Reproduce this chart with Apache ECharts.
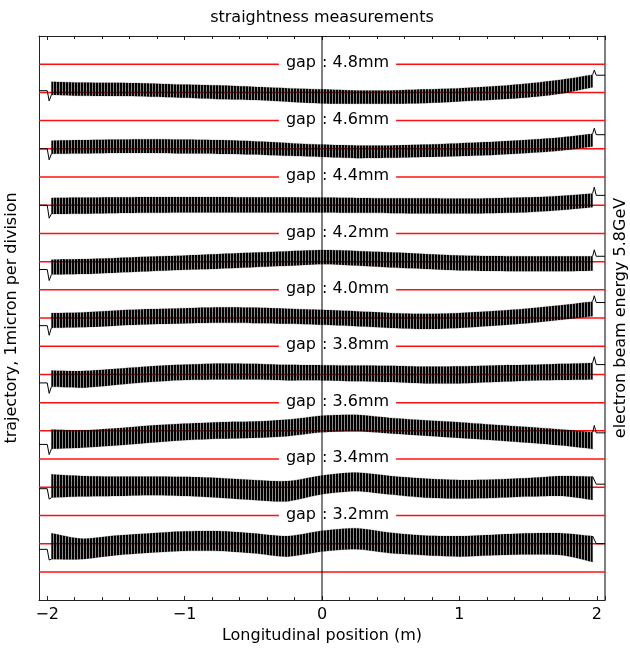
<!DOCTYPE html>
<html><head><meta charset="utf-8">
<script src="https://cdn.jsdelivr.net/npm/echarts@6/dist/echarts.min.js"></script>
<style>html,body{margin:0;padding:0;background:#fff}#c{width:630px;height:649px}</style>
</head><body><div id="c"></div>
<script>
// ---------------- data ----------------
const gapLabels   = ['4.8', '4.6', '4.4', '4.2', '4.0', '3.8', '3.6', '3.4', '3.2'];
const baselines   = [18, 16, 14, 12, 10, 8, 6, 4, 2];
const labelLevels = [19, 17, 15, 13, 11, 9, 7, 5, 3];
const redLevels   = [1, 2, 3, 4, 5, 6, 7, 8, 9, 10, 11, 12, 13, 14, 15, 16, 17, 18, 19];

// envelope sample positions (m)
const envX = [-1.97, -1.75, -1.5, -1.25, -1.0, -0.75, -0.5, -0.25, 0, 0.25, 0.5, 0.75, 1.0, 1.25, 1.5, 1.75, 1.97];

// upper / lower envelope of the oscillating trajectory, relative to its baseline (micron)
const upper48 = [0.38, 0.35, 0.34, 0.32, 0.28, 0.25, 0.20, 0.15, 0.11, 0.07, 0.07, 0.11, 0.15, 0.22, 0.32, 0.46, 0.63];
const lower48 = [-0.09, -0.12, -0.13, -0.15, -0.19, -0.24, -0.27, -0.33, -0.39, -0.40, -0.40, -0.38, -0.32, -0.26, -0.18, -0.04, 0.18];
const upper46 = [0.29, 0.31, 0.33, 0.34, 0.33, 0.31, 0.27, 0.21, 0.15, 0.12, 0.12, 0.15, 0.20, 0.25, 0.32, 0.41, 0.53];
const lower46 = [-0.18, -0.17, -0.15, -0.15, -0.17, -0.18, -0.20, -0.25, -0.29, -0.33, -0.32, -0.29, -0.26, -0.22, -0.15, -0.06, 0.08];
const upper44 = [0.26, 0.27, 0.28, 0.29, 0.29, 0.29, 0.28, 0.28, 0.27, 0.26, 0.25, 0.25, 0.24, 0.25, 0.28, 0.34, 0.42];
const lower44 = [-0.31, -0.30, -0.28, -0.27, -0.26, -0.26, -0.26, -0.26, -0.26, -0.27, -0.28, -0.29, -0.29, -0.28, -0.25, -0.17, -0.07];
const upper42 = [0.07, 0.09, 0.13, 0.18, 0.22, 0.27, 0.32, 0.37, 0.41, 0.38, 0.33, 0.27, 0.22, 0.20, 0.19, 0.19, 0.19];
const lower42 = [-0.46, -0.44, -0.39, -0.34, -0.29, -0.25, -0.20, -0.15, -0.09, -0.14, -0.21, -0.26, -0.31, -0.33, -0.34, -0.34, -0.32];
const upper40 = [0.18, 0.20, 0.27, 0.32, 0.35, 0.38, 0.37, 0.33, 0.29, 0.24, 0.18, 0.15, 0.18, 0.25, 0.34, 0.46, 0.59];
const lower40 = [-0.35, -0.33, -0.27, -0.22, -0.19, -0.17, -0.18, -0.20, -0.24, -0.29, -0.35, -0.39, -0.35, -0.27, -0.18, -0.06, 0.06];
const upper38 = [0.14, 0.12, 0.20, 0.29, 0.35, 0.39, 0.38, 0.34, 0.33, 0.32, 0.31, 0.28, 0.29, 0.32, 0.34, 0.38, 0.41];
const lower38 = [-0.44, -0.47, -0.37, -0.27, -0.20, -0.18, -0.18, -0.21, -0.21, -0.24, -0.27, -0.32, -0.32, -0.27, -0.22, -0.20, -0.18];
const upper36 = [0.05, 0.02, 0.09, 0.19, 0.26, 0.31, 0.33, 0.40, 0.54, 0.57, 0.46, 0.38, 0.31, 0.22, 0.14, 0.05, -0.05];
const lower36 = [-0.64, -0.60, -0.52, -0.42, -0.33, -0.28, -0.25, -0.19, -0.05, -0.01, -0.09, -0.17, -0.25, -0.33, -0.42, -0.52, -0.64];
const upper34 = [0.46, 0.40, 0.38, 0.38, 0.37, 0.33, 0.26, 0.22, 0.42, 0.52, 0.40, 0.31, 0.26, 0.28, 0.33, 0.40, 0.38];
const lower34 = [-0.37, -0.33, -0.31, -0.28, -0.31, -0.37, -0.45, -0.50, -0.25, -0.14, -0.26, -0.37, -0.40, -0.38, -0.33, -0.31, -0.45];
const upper32 = [0.37, 0.18, 0.29, 0.37, 0.44, 0.45, 0.37, 0.27, 0.46, 0.55, 0.39, 0.29, 0.27, 0.32, 0.37, 0.37, 0.27];
const lower32 = [-0.55, -0.55, -0.41, -0.32, -0.26, -0.26, -0.34, -0.46, -0.28, -0.20, -0.34, -0.41, -0.46, -0.41, -0.38, -0.41, -0.65];

const uppers = [upper48, upper46, upper44, upper42, upper40, upper38, upper36, upper34, upper32];
const lowers = [lower48, lower46, lower44, lower42, lower40, lower38, lower36, lower34, lower32];

// entry hook (left end) and exit spike (right end), relative to baseline
const entryX     = [-2.06, -2.0, -1.986];
const entryLevel = [0.06, 0.00, 0.00, -0.28, -0.27, -0.30, -0.48, -0.05, -0.20];
const entryDip   = [-0.30, -0.39, -0.46, -0.67, -0.61, -0.67, -0.84, -0.42, -0.58];
const exitX      = [1.982, 1.996, 2.06];
const exitPeak   = [0.79, 0.73, 0.64, 0.42, 0.79, 0.63, 0.19, 0.42, 0.30];
const exitLevel  = [0.61, 0.50, 0.35, 0.19, 0.55, 0.35, -0.07, 0.11, 0.00];

// ---------------- chart ----------------
const FONT = 'DejaVu Sans';
const pat = document.createElement('canvas');
pat.width = 3; pat.height = 4;
const pctx = pat.getContext('2d');
pctx.fillStyle = '#000';
pctx.fillRect(0, 0, 2, 4);
pctx.fillStyle = 'rgba(0,0,0,0.45)';
pctx.fillRect(2, 0, 1, 4);

const chart = echarts.init(document.getElementById('c'), null, {renderer: 'canvas'});

const series = [];

// red reference lines
series.push({
  type: 'custom', z: 1, silent: true,
  data: redLevels.map(v => [0, v]),
  encode: {x: 0, y: 1},
  renderItem: (params, api) => {
    const cs = params.coordSys;
    const p = api.coord([0, api.value(1)]);
    return {type: 'line', shape: {x1: cs.x, y1: p[1], x2: cs.x + cs.width, y2: p[1]},
            style: {stroke: '#ff1010', lineWidth: 1.5}};
  }
});

// oscillating trajectory bands
series.push({
  type: 'custom', z: 2, silent: true,
  data: baselines.map((b, i) => [0, b, i]),
  encode: {x: 0, y: 1},
  renderItem: (params, api) => {
    const i = params.dataIndex;
    const b = baselines[i];
    const n = envX.length - 1;
    const up = [], lo = [];
    for (let k = 0; k <= n; k++) {
      up.push(api.coord([envX[k], b + uppers[i][k]]));
      lo.push(api.coord([envX[k], b + lowers[i][k]]));
    }
    // repeat the four corner points so smoothing keeps the band ends square
    const pts = [up[0]].concat(up, [up[n]], [lo[n]], lo.slice().reverse(), [lo[0]]);
    return {type: 'polygon', shape: {points: pts, smooth: 0.25},
            style: {fill: {image: pat, repeat: 'repeat'}, stroke: 'rgba(0,0,0,0.3)', lineWidth: 0.6}};
  }
});

// entry / exit thin lines
baselines.forEach((b, i) => {
  const n = envX.length - 1;
  series.push({
    type: 'line', z: 3, silent: true, symbol: 'none', animation: false,
    lineStyle: {color: '#000', width: 1},
    data: [[entryX[0], b + entryLevel[i]], [entryX[1], b + entryLevel[i]], [entryX[2], b + entryDip[i]], [envX[0], b + lowers[i][0]]]
  });
  series.push({
    type: 'line', z: 3, silent: true, symbol: 'none', animation: false,
    lineStyle: {color: '#000', width: 1},
    data: [[envX[n], b + uppers[i][n]], [exitX[0], b + exitPeak[i]], [exitX[1], b + exitLevel[i]], [exitX[2], b + exitLevel[i]]]
  });
});

// gap labels
series.push({
  type: 'custom', z: 4, silent: true,
  data: labelLevels.map((v, i) => [0, v, i]),
  encode: {x: 0, y: 1},
  renderItem: (params, api) => {
    const i = params.dataIndex;
    const p = api.coord([api.value(0), api.value(1)]);
    const common = {fill: '#000', font: '16px "' + FONT + '"', verticalAlign: 'middle', textVerticalAlign: 'middle',
                    backgroundColor: '#fff'};
    return {type: 'group', children: [
      {type: 'text', x: p[0], y: p[1] - 1,
       style: Object.assign({}, common, {text: 'gap', align: 'right', textAlign: 'right', padding: [0, 6, 0, 7]})},
      {type: 'text', x: p[0], y: p[1] - 1,
       style: Object.assign({}, common, {text: ': ' + gapLabels[i] + 'mm', align: 'left', textAlign: 'left', padding: [0, 7, 0, 0]})}
    ]};
  }
});

// vertical zero line
series.push({
  type: 'custom', z: 5, silent: true,
  data: [[0, 0]],
  encode: {x: 0, y: 1},
  renderItem: (params, api) => {
    const cs = params.coordSys;
    const p = api.coord([api.value(0), 0]);
    return {type: 'line', shape: {x1: p[0], y1: cs.y, x2: p[0], y2: cs.y + cs.height},
            style: {stroke: '#000', lineWidth: 1}};
  }
});

const fmt = v => {
  if (Math.abs(v - Math.round(v)) > 1e-6) return '';
  return v < 0 ? '\u2212' + Math.abs(v) : String(v);
};

const axisCol = '#222';
const option = {
  animation: false,
  backgroundColor: '#fff',
  grid: {left: 39, right: 25, top: 36, bottom: 48, containLabel: false},
  xAxis: [
    {type: 'value', position: 'bottom', min: -2.06, max: 2.06, splitNumber: 4,
     axisLine: {show: true, onZero: false, lineStyle: {color: axisCol, width: 1}},
     axisTick: {show: true, inside: true, length: 4, lineStyle: {color: axisCol}},
     minorTick: {show: true, splitNumber: 5, length: 3, lineStyle: {color: axisCol}},
     splitLine: {show: false},
     axisLabel: {formatter: fmt, color: '#000', fontSize: 16, fontFamily: FONT, margin: 7},
     name: 'Longitudinal position (m)', nameLocation: 'middle', nameGap: 27,
     nameTextStyle: {color: '#000', fontSize: 16, fontFamily: FONT}},
    {type: 'value', position: 'top', min: -2.06, max: 2.06, splitNumber: 4,
     axisLine: {show: true, onZero: false, lineStyle: {color: axisCol, width: 1}},
     axisTick: {show: true, inside: true, length: 4, lineStyle: {color: axisCol}},
     minorTick: {show: true, splitNumber: 5, length: 3, lineStyle: {color: axisCol}},
     splitLine: {show: false},
     axisLabel: {show: false}}
  ],
  yAxis: [
    {type: 'value', position: 'left', min: 0, max: 20,
     axisLine: {show: true, onZero: false, lineStyle: {color: axisCol, width: 1}},
     axisTick: {show: false}, axisLabel: {show: false}, splitLine: {show: false}},
    {type: 'value', position: 'right', min: 0, max: 20,
     axisLine: {show: true, onZero: false, lineStyle: {color: '#555', width: 1.5}},
     axisTick: {show: false}, axisLabel: {show: false}, splitLine: {show: false}}
  ],
  graphic: [
    {type: 'text', x: 322, y: 18, silent: true,
     style: {text: 'straightness measurements', fill: '#000', font: '16px "' + FONT + '"',
             align: 'center', verticalAlign: 'middle', textAlign: 'center', textVerticalAlign: 'middle'}},
    {type: 'text', x: 12, y: 318, rotation: Math.PI / 2, silent: true,
     style: {text: 'trajectory, 1micron per division', fill: '#000', font: '16px "' + FONT + '"',
             align: 'center', verticalAlign: 'middle', textAlign: 'center', textVerticalAlign: 'middle'}},
    {type: 'text', x: 621, y: 318, rotation: Math.PI / 2, silent: true,
     style: {text: 'electron beam energy 5.8GeV', fill: '#000', font: '16px "' + FONT + '"',
             align: 'center', verticalAlign: 'middle', textAlign: 'center', textVerticalAlign: 'middle'}}
  ],
  series: series
};
chart.setOption(option);
</script></body></html>
